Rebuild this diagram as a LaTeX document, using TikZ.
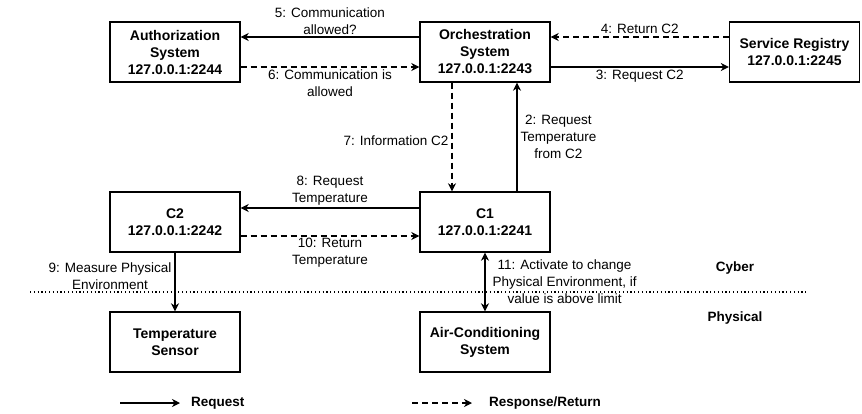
\documentclass[tikz,border=0pt]{standalone}
\usepackage{fontspec}
\setmainfont{Liberation Sans}
\usepackage{tikz}
\usetikzlibrary{arrows.meta,positioning}

\tikzset{
    sysbox/.style={draw, line width=1.4pt, minimum width=130pt, minimum height=60pt,
        align=center, font=\fontsize{14}{17}\selectfont\bfseries, inner sep=2pt},
    lbl/.style={align=center, font=\fontsize{13.5}{17}\selectfont, inner sep=3pt},
    boldlbl/.style={lbl, font=\fontsize{13.5}{17}\selectfont\bfseries},
    tip/.tip={Stealth[length=8pt,width=8pt,inset=2.5pt]},
    req/.style={line width=1.1pt, -tip},
    resp/.style={req, dash pattern=on 6pt off 4pt},
}

\begin{document}
\begin{tikzpicture}[x=1pt,y=-1pt]
    \useasboundingbox (0,0) rectangle (862,413);
    % systems
    \node[sysbox] (auth) at (175,52) {Authorization\\System\\127.0.0.1:2244};
    \node[sysbox] (orch) at (485,52) {Orchestration\\System\\127.0.0.1:2243};
    \node[sysbox] (reg) at (794.5,52) {Service Registry\\127.0.0.1:2245};
    \node[sysbox] (c2) at (175,222) {C2\\127.0.0.1:2242};
    \node[sysbox] (c1) at (485,222) {C1\\127.0.0.1:2241};
    \node[sysbox] (sensor) at (175,342) {Temperature\\Sensor};
    \node[sysbox] (ac) at (485,342) {Air-Conditioning\\System};

    % messages
    \draw[req] ([yshift=15pt]orch.west) -- ([yshift=15pt]auth.east)
        node[lbl, midway, above, inner sep=2pt] {5: Communication\\allowed?};
    \draw[resp] ([yshift=-15pt]auth.east) -- ([yshift=-15pt]orch.west)
        node[lbl, midway, below, inner sep=2pt] {6: Communication is\\allowed};
    \draw[resp] ([yshift=15pt]reg.west) -- ([yshift=15pt]orch.east)
        node[lbl, midway, above] {4: Return C2};
    \draw[req] ([yshift=-15pt]orch.east) -- ([yshift=-15pt]reg.west)
        node[lbl, midway, below] {3: Request C2};
    \draw[resp] ([xshift=-33pt]orch.south) -- ([xshift=-33pt]c1.north)
        node[lbl, midway, left, yshift=-4pt] {7: Information C2};
    \draw[req] ([xshift=32pt]c1.north) -- ([xshift=32pt]orch.south)
        node[lbl, midway, right] {2: Request\\Temperature\\from C2};
    \draw[req] ([yshift=14pt]c1.west) -- ([yshift=14pt]c2.east)
        node[lbl, midway, above, inner sep=2pt] {8: Request\\Temperature};
    \draw[resp] ([yshift=-14pt]c2.east) -- ([yshift=-14pt]c1.west)
        node[lbl, midway, below, inner sep=2pt] {10: Return\\Temperature};
    \draw[req] (c2.south) -- (sensor.north)
        node[lbl, midway, left, yshift=6pt] {9: Measure Physical\\Environment};
    \draw[req, tip-tip] (c1.south) -- (ac.north)
        node[lbl, midway, right, xshift=4pt] {11: Activate to change\\Physical Environment, if\\value is above limit};

    % cyber / physical border
    \draw[line width=1.2pt, dash pattern=on 1.2pt off 2.6pt] (30,292) -- (806,292);
    \node[boldlbl] (cyber) at (735,268) {Cyber};
    \node[boldlbl] (phys) at (735,318) {Physical};

    % legend
    \coordinate (reqA) at (120,403);
    \coordinate (reqB) at (180,403);
    \coordinate (respA) at (412,403);
    \coordinate (respB) at (472,403);
    \draw[req] (reqA) -- (reqB);
    \draw[resp] (respA) -- (respB);
    \node[boldlbl, anchor=west] (reqtxt) at (188,403) {Request};
    \node[boldlbl, anchor=west] (resptxt) at (486,403) {Response/Return};
\end{tikzpicture}
\end{document}
